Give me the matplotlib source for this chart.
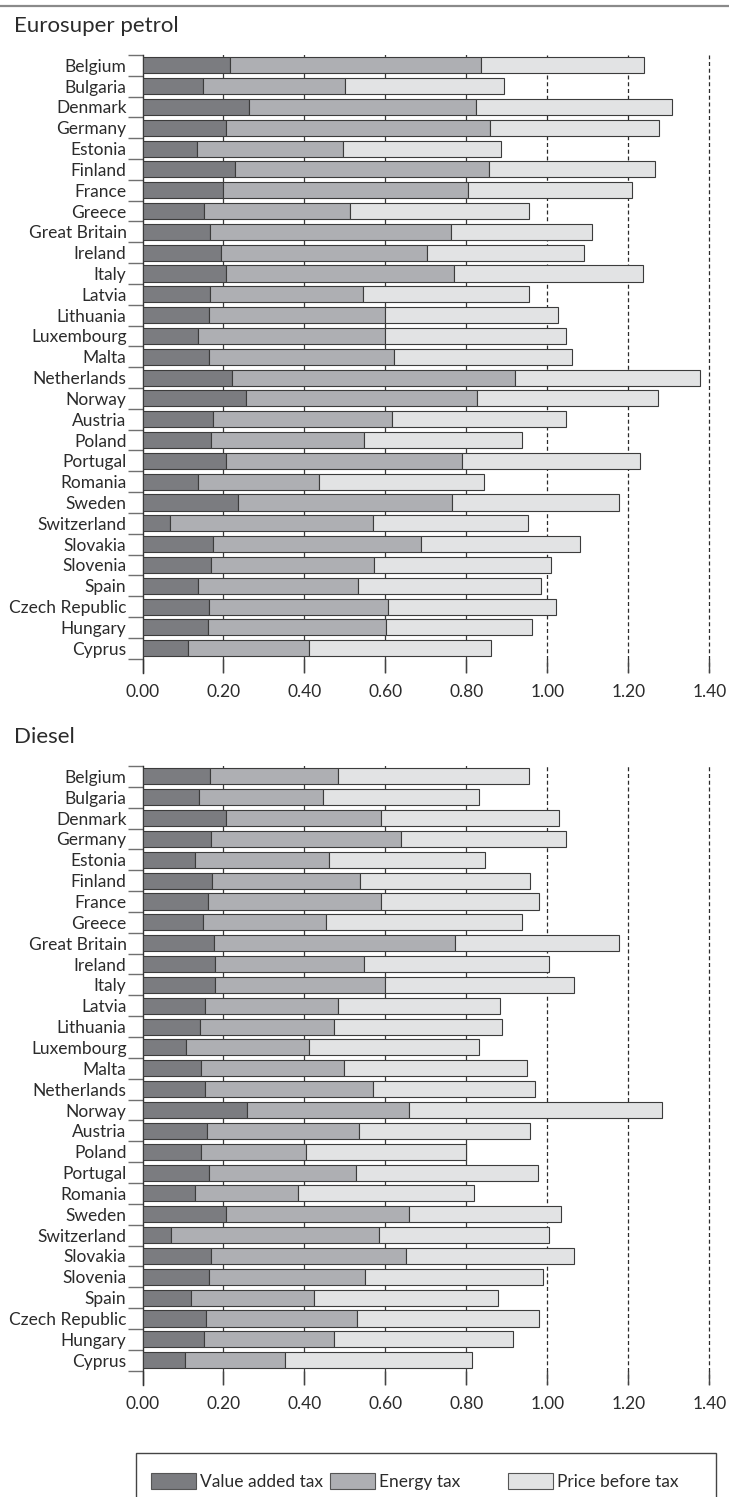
"""
Fuel price composition per country: Eurosuper petrol and Diesel (EUR per litre)
"""

import matplotlib
matplotlib.use("Agg")
import matplotlib.pyplot as plt
from matplotlib.patches import Patch, Rectangle
from matplotlib.lines import Line2D
import numpy as np


countries = ["Belgium", "Bulgaria", "Denmark", "Germany", "Estonia", "Finland", "France",
             "Greece", "Great Britain", "Ireland", "Italy", "Latvia", "Lithuania",
             "Luxembourg", "Malta", "Netherlands", "Norway", "Austria", "Poland",
             "Portugal", "Romania", "Sweden", "Switzerland", "Slovakia", "Slovenia",
             "Spain", "Czech Republic", "Hungary", "Cyprus"]

# Eurosuper petrol
petrol_vat = [0.216, 0.149, 0.262, 0.205, 0.135, 0.229, 0.199, 0.153, 0.167, 0.193,
              0.207, 0.166, 0.164, 0.137, 0.163, 0.220, 0.256, 0.175, 0.169, 0.205,
              0.136, 0.236, 0.069, 0.173, 0.169, 0.137, 0.163, 0.161, 0.113]
petrol_energy = [0.621, 0.351, 0.561, 0.654, 0.361, 0.626, 0.606, 0.359, 0.595, 0.509,
                 0.563, 0.379, 0.435, 0.463, 0.459, 0.701, 0.571, 0.441, 0.378, 0.583,
                 0.300, 0.529, 0.501, 0.514, 0.403, 0.395, 0.444, 0.441, 0.299]
petrol_price = [0.401, 0.393, 0.484, 0.417, 0.389, 0.410, 0.404, 0.443, 0.349, 0.388,
                0.465, 0.409, 0.428, 0.447, 0.438, 0.456, 0.447, 0.430, 0.391, 0.440,
                0.407, 0.412, 0.383, 0.393, 0.438, 0.452, 0.415, 0.360, 0.449]

# Diesel
diesel_vat = [0.166, 0.140, 0.206, 0.168, 0.130, 0.172, 0.161, 0.150, 0.176, 0.178,
              0.178, 0.154, 0.142, 0.108, 0.145, 0.155, 0.257, 0.160, 0.144, 0.163,
              0.130, 0.207, 0.071, 0.170, 0.165, 0.121, 0.158, 0.153, 0.106]
diesel_energy = [0.318, 0.306, 0.382, 0.470, 0.330, 0.366, 0.429, 0.302, 0.596, 0.368,
                 0.422, 0.330, 0.331, 0.303, 0.353, 0.413, 0.400, 0.375, 0.261, 0.365,
                 0.255, 0.452, 0.512, 0.481, 0.384, 0.302, 0.372, 0.319, 0.245]
diesel_price = [0.470, 0.386, 0.440, 0.408, 0.387, 0.420, 0.389, 0.484, 0.405, 0.458,
                0.466, 0.399, 0.415, 0.419, 0.452, 0.401, 0.627, 0.423, 0.395, 0.449,
                0.434, 0.375, 0.422, 0.415, 0.441, 0.455, 0.450, 0.442, 0.463]

x_ticks = [0.0, 0.2, 0.4, 0.6, 0.8, 1.0, 1.2, 1.4]
series_names = ["Value added tax", "Energy tax", "Price before tax"]
series_colors = ["#7b7c80", "#aeafb3", "#e2e3e4"]

plt.rcParams["font.family"] = ["Lato", "DejaVu Sans"]
text_color = "#2b2b2b"
edge_color = "#3c3c3c"

W, H = 729, 1497
fig = plt.figure(figsize=(W / 100, H / 100), dpi=100)


def draw_panel(top_px, bottom_px, title, vat, energy, price):
    ax = fig.add_axes([142.5 / W, 1 - bottom_px / H, 575 / W, (bottom_px - top_px) / H])
    y = np.arange(len(countries))
    left = np.zeros(len(countries))
    for vals, col in zip([vat, energy, price], series_colors):
        ax.barh(y, vals, left=left, height=0.77, color=col,
                edgecolor=edge_color, linewidth=0.8, zorder=3)
        left = left + np.array(vals)

    # grid: solid under the bars, dashed from 1.00 on
    for t in x_ticks[1:]:
        if t < 1.0:
            ax.axvline(t, color="#3a3a3a", lw=0.9, zorder=1)
        else:
            ax.axvline(t, color="#2a2a2a", lw=0.9, ls=(0, (3.2, 2.2)), zorder=1)

    ax.set_xlim(0, 1.42)
    ax.set_ylim(len(countries) - 0.5 + 0.69, -0.5)

    ax.set_xticks(x_ticks)
    ax.set_xticklabels([f"{t:.2f}" for t in x_ticks])
    ax.tick_params(axis="x", direction="in", length=10, width=1.0, color="#444444",
                   labelsize=12.5, labelcolor=text_color, pad=8)

    # y ticks at the boundaries, country names in between
    ax.set_yticks(np.arange(len(countries) + 1) - 0.5)
    ax.set_yticklabels([])
    ax.set_yticks(y, minor=True)
    ax.set_yticklabels(countries, minor=True)
    ax.tick_params(axis="y", which="major", direction="out", length=10.5,
                   width=1.0, color="#707070")
    ax.tick_params(axis="y", which="minor", length=0, pad=11.5,
                   labelsize=12.5, labelcolor=text_color)

    for s in ["top", "right", "bottom"]:
        ax.spines[s].set_visible(False)
    ax.spines["left"].set_color("#333333")
    ax.spines["left"].set_linewidth(1.0)

    fig.text(14 / W, 1 - (top_px - 23) / H, title, fontsize=16, color=text_color,
             ha="left", va="baseline")
    return ax


draw_panel(54.9, 673, "Eurosuper petrol", petrol_vat, petrol_energy, petrol_price)
draw_panel(766, 1385, "Diesel", diesel_vat, diesel_energy, diesel_price)

# grey rule on top
fig.add_artist(Line2D([0, 1], [1 - 6 / H, 1 - 6 / H], color="#8a8a8a", lw=1.6))

# legend box (runs off the bottom edge)
fig.add_artist(Rectangle((135.5 / W, -0.02), (716 - 135.5) / W, 0.02 + 1 - 1453 / H,
                         fill=False, edgecolor="#444444", lw=1.0))
legend_x = [151, 330, 508]
for name, col, lx in zip(series_names, series_colors, legend_x):
    fig.legend(handles=[Patch(facecolor=col, edgecolor="#555555", lw=0.8, label=name)],
               loc="center left", bbox_to_anchor=(lx / W, 1 - 1481.5 / H),
               frameon=False, fontsize=12.5, labelcolor=text_color,
               handlelength=2.6, handleheight=1.0, handletextpad=0.25,
               borderpad=0, borderaxespad=0)

plt.savefig("out.png", dpi=100)
